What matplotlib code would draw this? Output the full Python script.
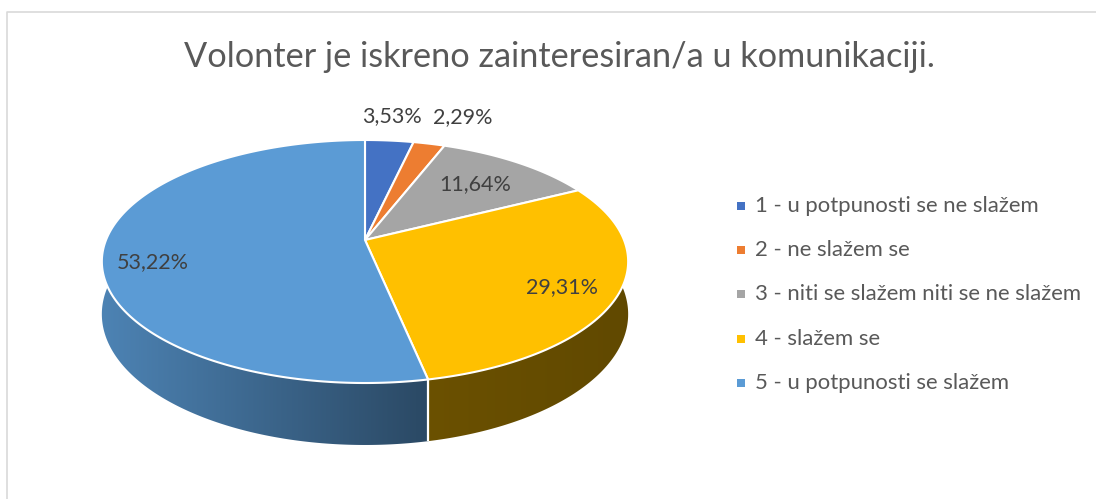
import numpy as np
import matplotlib
matplotlib.use("Agg")
import matplotlib.pyplot as plt
from matplotlib.patches import Polygon, Rectangle
from matplotlib.lines import Line2D
from matplotlib.colors import to_rgb

title = "Volonter je iskreno zainteresiran/a u komunikaciji."
categories = ["1 - u potpunosti se ne slažem", "2 - ne slažem se",
              "3 - niti se slažem niti se ne slažem", "4 - slažem se",
              "5 - u potpunosti se slažem"]
values = [3.53, 2.29, 11.64, 29.31, 53.22]
value_labels = ["3,53%", "2,29%", "11,64%", "29,31%", "53,22%"]
colors = ["#4472C4", "#ED7D31", "#A5A5A5", "#FFC000", "#5B9BD5"]

FONT = ["Lato", "DejaVu Sans"]
W, H = 1096, 499
fig = plt.figure(figsize=(W / 100, H / 100), dpi=100)
ax = fig.add_axes([0, 0, 1, 1])
ax.axis("off")

# perspective pie geometry (pixel space)
cx, cy = 365, 240
R, A, K, D = 259, 117.7, 0.177, 51


def proj(theta, r=1.0, z=0.0):
    u = r * np.sin(theta)
    v = r * np.cos(theta)
    d = 1 + K * v
    return cx + R * u / d, cy - A * v / d + z * D / d


def shade(x):
    t = (x - cx) / R
    return np.where(t < 0.24,
                    0.84 + (0.47 - 0.84) * (t + 1) / 1.24,
                    0.42 + (0.38 - 0.42) * (t - 0.24) / 0.76)


total = sum(values)
bounds = np.concatenate([[0], np.cumsum(values)]) / total * 2 * np.pi

# side walls with horizontal gradient
for i, c in enumerate(colors):
    t0, t1 = bounds[i], bounds[i + 1]
    ts = np.linspace(t0, t1, max(3, int(np.degrees(t1 - t0) * 2)))
    ts = ts[np.cos(ts) < 0.3]
    if len(ts) < 2:
        continue
    top = [proj(t) for t in ts]
    bot = [proj(t, z=1) for t in ts[::-1]]
    pts = np.array(top + bot)
    poly = Polygon(pts, closed=True, facecolor="none", edgecolor="none")
    ax.add_patch(poly)
    xmin, xmax = pts[:, 0].min() - 2, pts[:, 0].max() + 2
    ymin, ymax = pts[:, 1].min() - 2, pts[:, 1].max() + 2
    xs = np.linspace(xmin, xmax, 400)
    base = np.array(to_rgb(c))
    img = np.clip(shade(xs)[:, None] * base[None, :], 0, 1)[None, :, :]
    im = ax.imshow(img, extent=(xmin, xmax, ymax, ymin), aspect="auto",
                   interpolation="bilinear", zorder=1)
    im.set_clip_path(poly)

# white separators on the visible side
for t in bounds[:-1]:
    if np.cos(t) < -K:
        x0, y0 = proj(t)
        x1, y1 = proj(t, z=1)
        ax.plot([x0, x1], [y0, y1], color="white", lw=1.6, zorder=2,
                solid_capstyle="butt")

# top faces
for i, c in enumerate(colors):
    t0, t1 = bounds[i], bounds[i + 1]
    ts = np.linspace(t0, t1, max(3, int(np.degrees(t1 - t0))))
    pts = [(cx, cy)] + [proj(t) for t in ts]
    ax.add_patch(Polygon(pts, closed=True, facecolor=c, edgecolor="white",
                         linewidth=1.5, joinstyle="round", zorder=3))

ax.set_xlim(0, W)
ax.set_ylim(H, 0)

renderer = fig.canvas.get_renderer()


def fit_size(txt, target, base=14.0):
    t = ax.text(0, 0, txt, fontsize=base, family=FONT)
    w = t.get_window_extent(renderer).width
    t.remove()
    return base * target / w


lab_size = fit_size("53,22%", 72)
leg_size = fit_size(categories[2], 328)
title_size = fit_size(title, 756)

# data labels (radial factors for x and y)
lab_fac = [(1.12, 1.25), (1.53, 1.28), (0.72, 0.72), (0.78, 0.85), (0.807, 1.82)]
for i, lab in enumerate(value_labels):
    m = 0.5 * (bounds[i] + bounds[i + 1])
    u, v = np.sin(m), np.cos(m)
    d = 1 + K * v
    fx, fy = lab_fac[i]
    x = cx + R * u * fx / d
    y = cy - A * v * fy / d
    ax.text(x, y, lab, ha="center", va="center", fontsize=lab_size,
            color="#404040", family=FONT, zorder=5)

# title
ax.text(559, 57, title, ha="center", va="center", fontsize=title_size,
        color="#595959", family=FONT, zorder=5)

# legend
leg_y0, leg_dy = 206, 44.2
for i, (lab, c) in enumerate(zip(categories, colors)):
    y = leg_y0 + i * leg_dy
    ax.add_patch(Rectangle((737, y - 4), 8, 8, facecolor=c, edgecolor="none",
                           zorder=5))
    ax.text(755, y, lab, ha="left", va="center", fontsize=leg_size,
            color="#595959", family=FONT, zorder=5)

# chart border
ax.add_line(Line2D([6.5, 6.5, W], [H, 11.5, 11.5], color="#D9D9D9", lw=1.2,
                   zorder=6))

fig.savefig("out.png", dpi=100)
